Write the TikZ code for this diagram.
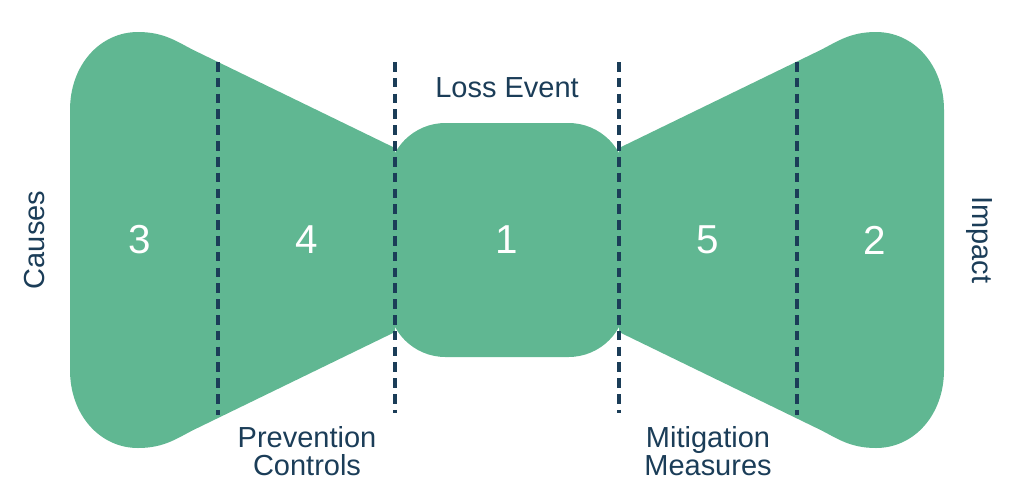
\documentclass[tikz,border=0pt]{standalone}
\usepackage{fontspec}
\setmainfont{Liberation Sans}
\definecolor{bowgreen}{RGB}{96,183,146}
\definecolor{bownavy}{RGB}{27,61,88}
\tikzset{
  label/.style={text=bownavy, font=\fontsize{16.5}{19}\selectfont, align=center},
  number/.style={text=white, font=\fontsize{23}{26}\selectfont},
  divider/.style={bownavy, line width=2.1pt, dash pattern=on 5.5pt off 3.5pt}
}
\begin{document}
\begin{tikzpicture}[x=0.02cm, y=-0.02cm]
  \useasboundingbox (0,0) rectangle (1024,501);

  % left lobe
  \fill [bowgreen] (395,148) -- (195,50.8) .. controls (178,42.5) and (165,32) .. (138,32)
    .. controls (100,32) and (70,65) .. (70,110) -- (70,370)
    .. controls (70,415) and (100,448) .. (138,448)
    .. controls (165,448) and (178,437.5) .. (195,429.2) -- (395,332) -- cycle;
  % right lobe
  \fill [bowgreen] (619,148) -- (819,50.8) .. controls (836,42.5) and (849,32) .. (876,32)
    .. controls (914,32) and (944,65) .. (944,110) -- (944,370)
    .. controls (944,415) and (914,448) .. (876,448)
    .. controls (849,448) and (836,437.5) .. (819,429.2) -- (619,332) -- cycle;
  % loss event in the middle
  \fill [bowgreen, rounded corners=1.15cm] (388,123) rectangle (626,357);

  % dividers
  \draw [divider] (218,62) -- (218,415);
  \draw [divider] (395,62) -- (395,413);
  \draw [divider] (619,62) -- (619,413);
  \draw [divider] (797,62) -- (797,415);

  \node [number] (n3) at (140,240) {3};
  \node [number] (n4) at (307,240) {4};
  \node [number] (n1) at (507,240) {1};
  \node [number] (n5) at (708,240) {5};
  \node [number] (n2) at (875,240) {2};

  \node [label] (loss) at (507,88) {Loss Event};
  \node [label] (prevention) at (307,451) {Prevention\\[-3pt]Controls};
  \node [label] (mitigation) at (708,451) {Mitigation\\[-3pt]Measures};
  \node [label, rotate=90] (causes) at (35,240) {Causes};
  \node [label, rotate=-90] (impact) at (979,240) {Impact};
\end{tikzpicture}
\end{document}
